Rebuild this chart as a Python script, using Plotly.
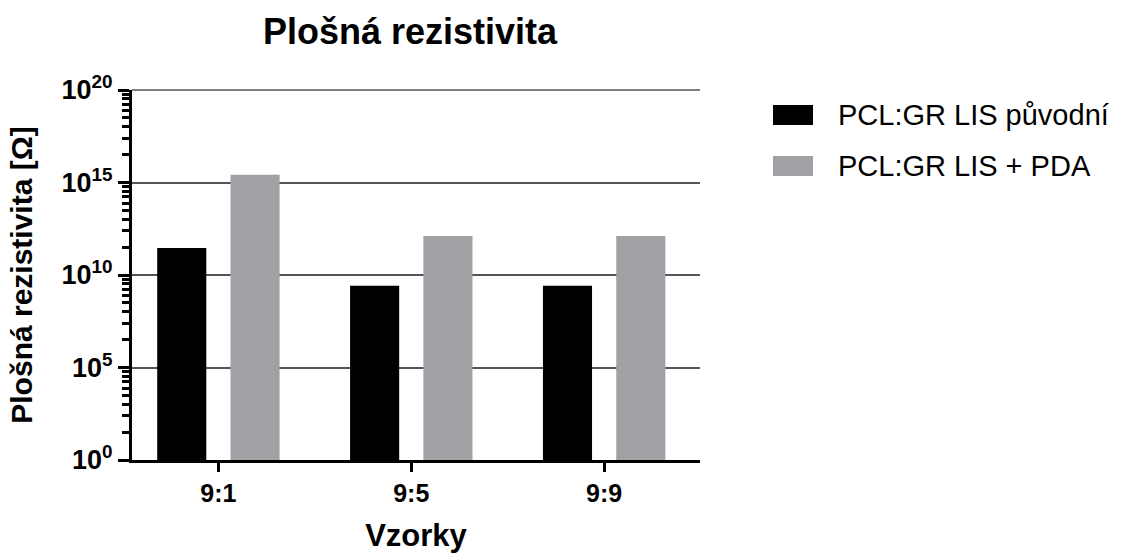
import numpy as np
import plotly.graph_objects as go

categories = ["9:1", "9:5", "9:9"]
series_names = ["PCL:GR LIS původní", "PCL:GR LIS + PDA"]
puvodni = [2.9e11, 2.6e9, 2.6e9]
pda = [2.6e15, 1.3e12, 1.3e12]
ytick_vals = [1e0, 1e5, 1e10, 1e15, 1e20]
ytick_text = ["10<sup>0</sup>", "10<sup>5</sup>", "10<sup>10</sup>", "10<sup>15</sup>", "10<sup>20</sup>"]

colors = ["#000000", "#a1a0a4"]
FONT = "Liberation Sans, Arial, Helvetica, sans-serif"

fig = go.Figure()
for name, vals, col in zip(series_names, [puvodni, pda], colors):
    fig.add_trace(go.Bar(x=categories, y=vals, name=name,
                         marker=dict(color=col, line=dict(width=0)),
                         showlegend=False))

# minor ticks (log-spaced within each 5-decade interval)
minor_vals = []
for a in range(0, 20, 5):
    for k in range(2, 10):
        minor_vals.append(float(10 ** (a + 5 * np.log10(k))))

W, H = 1122, 554
L, R, T, B = 132, 422, 90, 94

fig.update_layout(
    width=W, height=H,
    margin=dict(l=L, r=R, t=T, b=B, autoexpand=False),
    plot_bgcolor="white", paper_bgcolor="white",
    font=dict(family=FONT, color="black"),
    barmode="group", bargap=0.24, bargroupgap=0.33,
    title=dict(text="Plošná rezistivita", x=410 / W, xanchor="center",
               y=1 - 31 / H, yanchor="middle", yref="container",
               font=dict(size=36, weight="bold", family=FONT)),
    xaxis=dict(
        type="category", range=[-0.448, 2.497], automargin=False,
        showline=True, linecolor="black", linewidth=3,
        ticks="outside", ticklen=9, tickwidth=3, tickcolor="black",
        tickfont=dict(size=25, weight="bold"),
        showgrid=False, zeroline=False,
        title=dict(text="Vzorky", font=dict(size=31, weight="bold"), standoff=19),
    ),
    yaxis=dict(
        type="log", range=[0, 20], automargin=False,
        tickmode="array", tickvals=ytick_vals, ticktext=ytick_text,
        showline=True, linecolor="black", linewidth=3,
        ticks="outside", ticklen=11, tickwidth=3, tickcolor="black",
        tickfont=dict(size=27, weight="bold"),
        showgrid=True, gridcolor="#555555", gridwidth=1.5,
        zeroline=False,
        minor=dict(tickmode="array", tickvals=minor_vals, ticks="outside",
                   ticklen=7, tickwidth=2.5, tickcolor="black", showgrid=False),
        title=dict(text="Plošná rezistivita [Ω]", font=dict(size=30, weight="bold"), standoff=21),
    ),
)

# top gridline (10^20) at the plot edge
fig.add_shape(type="line", xref="paper", yref="paper", x0=0, x1=1, y0=1, y1=1,
              line=dict(color="#555555", width=1.5), layer="below")

# legend drawn as swatches + text
leg_y = [115, 166]
for name, col, yc in zip(series_names, colors, leg_y):
    fig.add_shape(type="rect", xref="paper", yref="paper",
                  x0=(773 - L) / (W - L - R), x1=(813 - L) / (W - L - R),
                  y0=(H - B - (yc + 10)) / (H - T - B), y1=(H - B - (yc - 10)) / (H - T - B),
                  fillcolor=col, line=dict(width=0))
    fig.add_annotation(text=name, xref="paper", yref="paper",
                       x=(836 - L) / (W - L - R), y=(H - B - yc) / (H - T - B),
                       xanchor="left", yanchor="middle", showarrow=False,
                       font=dict(size=29, family=FONT, color="black"))

fig.write_html("out.html", config={"displayModeBar": False},
               post_script="document.body.style.margin='0px';")
